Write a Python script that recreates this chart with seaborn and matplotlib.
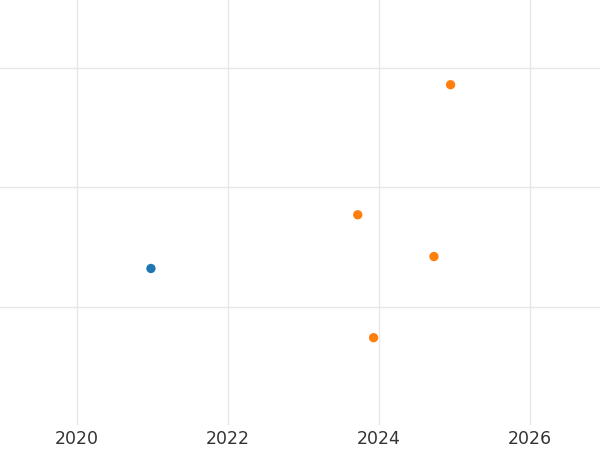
import matplotlib
matplotlib.use("Agg")
import matplotlib.pyplot as plt
import seaborn as sns
import pandas as pd

years = [2020.98, 2024.95, 2023.72, 2024.73, 2023.93]
values = [1.32, 2.86, 1.77, 1.42, 0.74]
groups = ["A", "B", "B", "B", "B"]
xticks = [2020, 2022, 2024, 2026]

df = pd.DataFrame({"year": years, "value": values, "group": groups})

sns.set_theme(style="white")
fig = plt.figure(figsize=(6, 4.5), dpi=100)
ax = fig.add_axes([0, 0.056, 1, 0.944])
sns.scatterplot(data=df, x="year", y="value", hue="group",
                palette=["#1f77b4", "#ff7f0e"], s=45, edgecolor="none",
                legend=False, ax=ax, zorder=3)
ax.set_xlim(2018.98, 2026.93)
ax.set_ylim(0.01, 3.57)
ax.set_xticks(xticks)
ax.set_xticklabels([str(t) for t in xticks], fontsize=12.5, color="#333333")
ax.set_yticks([1, 2, 3])
ax.set_yticklabels([])
ax.tick_params(axis="both", length=0, pad=4)
ax.grid(True, color="#e8e8e8", linewidth=1)
ax.set_xlabel("")
ax.set_ylabel("")
for s in ax.spines.values():
    s.set_visible(False)
fig.savefig("out.png", dpi=100)
